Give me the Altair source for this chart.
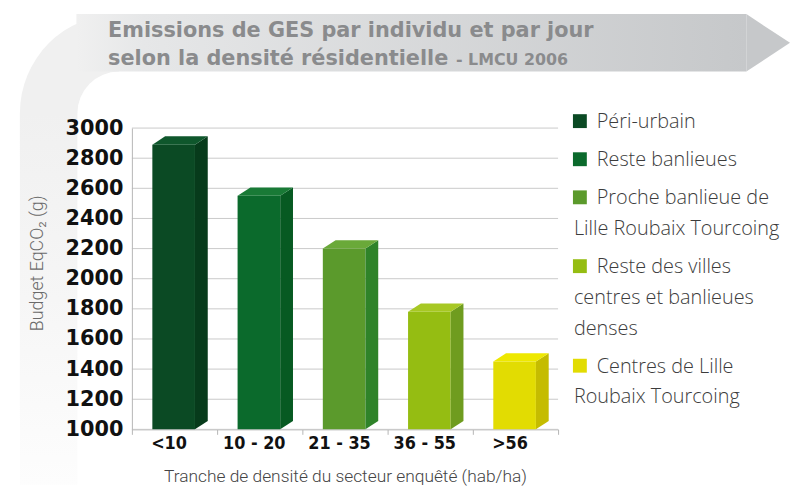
import json
import math
import altair as alt
import pandas as pd

# ---------------- data ----------------
categories = ["<10", "10 - 20", "21 - 35", "36 - 55", ">56"]
values = [2890, 2550, 2200, 1780, 1450]
series = [
    "Péri-urbain",
    "Reste banlieues",
    "Proche banlieue de\nLille Roubaix Tourcoing",
    "Reste des villes\ncentres et banlieues\ndenses",
    "Centres de Lille\nRoubaix Tourcoing",
]
y_ticks = [1000, 1200, 1400, 1600, 1800, 2000, 2200, 2400, 2600, 2800, 3000]
title_lines = ["Emissions de GES par individu et par jour", "selon la densité résidentielle"]
title_suffix = "- LMCU 2006"
x_title = "Tranche de densité du secteur enquêté (hab/ha)"
y_title = "Budget EqCO₂ (g)"

# ---------------- styles ----------------
front_colors = ["#0b4a24", "#0b6a2c", "#5b9a2c", "#95bd12", "#e2dc02"]
side_colors = ["#073b1b", "#075a22", "#2f8329", "#6f9c1f", "#c5bc00"]
top_colors = ["#0f572c", "#197a36", "#6aa939", "#a7c824", "#eee800"]
W, H = 430, 304
DEPTH_X = 0.15      # category units
DEPTH_Y = 56        # value units
BASE = 1000
TITLE_FONT = "DejaVu Sans"
TITLE_COLOR = "#8a8b8d"
LEG_FONT = "Open Sans"
LEG_SIZE = 20

df = pd.DataFrame({"cat": categories, "value": values, "idx": list(range(len(categories)))})
grid_df = pd.DataFrame({"tick": y_ticks})

leg_rows = []
g = 0
for i, s in enumerate(series):
    for j, line in enumerate(s.split("\n")):
        leg_rows.append({"item": series[i].split("\n")[0], "i": i, "line": j, "g": g, "text": line})
        g += 1
leg = pd.DataFrame(leg_rows)
item_keys = [s.split("\n")[0] for s in series]

xs = alt.Scale(domain=[0, len(categories)], nice=False, zero=False)
ys = alt.Scale(domain=[y_ticks[0], y_ticks[-1]], nice=False, zero=False)

label_expr = json.dumps(categories) + "[datum.value] || ''"
xaxis = alt.Axis(
    values=list(range(len(categories) + 1)), labelExpr=label_expr, grid=False,
    domainColor="#b5b5b5", tickColor="#b5b5b5", tickSize=5, labelOffset=37,
    labelFlush=False, labelOverlap=False,
    labelFont="DejaVu Sans Condensed, DejaVu Sans", labelFontWeight="bold", labelFontSize=18,
    labelColor="#111111", labelPadding=0,
    title=x_title, titleFont="Roboto", titleFontWeight=300, titleFontSize=17.5,
    titleColor="#444444", titlePadding=16,
)
yaxis = alt.Axis(
    values=y_ticks, format="d", grid=False, domainColor="#b5b5b5", ticks=False, zindex=1,
    labelFont="DejaVu Sans", labelFontWeight="bold", labelFontSize=21, labelColor="#111111",
    labelPadding=9, labelBaseline="middle",
    title=y_title, titleFont="Roboto", titleFontWeight=300, titleFontSize=18,
    titleColor="#6a6a6a", titleX=-95, titleY=136, titleAlign="center", titleBaseline="middle",
)

def col(rng):
    return alt.Color("cat:N", scale=alt.Scale(domain=categories, range=rng), legend=None)

# horizontal gridlines (behind the bars)
grid = alt.Chart(grid_df).mark_rule(color="#c9c9c9", strokeWidth=1).encode(
    y=alt.Y("tick:Q", scale=ys, axis=None),
    x=alt.value(0), x2=alt.value(W),
)

base = alt.Chart(df)
front = base.transform_calculate(
    px="datum.idx + 0.24", px2="datum.idx + 0.74"
).mark_bar().encode(
    x=alt.X("px:Q", scale=xs, axis=xaxis),
    x2="px2:Q",
    y=alt.Y("value:Q", scale=ys, axis=yaxis),
    y2=alt.datum(BASE),
    color=col(front_colors),
)
side = base.transform_calculate(k="[0, 1]").transform_flatten(["k"]).transform_calculate(
    px=f"datum.idx + 0.74 + datum.k * {DEPTH_X}",
    yt=f"datum.value + datum.k * {DEPTH_Y}",
    yb=f"{BASE} + datum.k * {DEPTH_Y}",
).mark_area(orient="vertical").encode(
    x=alt.X("px:Q", scale=xs, axis=xaxis),
    y=alt.Y("yt:Q", scale=ys, axis=None, stack=None),
    y2="yb:Q",
    color=col(side_colors),
)
top = base.transform_calculate(k="[0, 1, 2, 3]").transform_flatten(["k"]).transform_calculate(
    px=f"datum.idx + 0.24 + [0, {DEPTH_X}, 0.5, 0.5 + {DEPTH_X}][datum.k]",
    yt=f"datum.value + [0, {DEPTH_Y}, {DEPTH_Y}, {DEPTH_Y}][datum.k]",
    yb=f"datum.value + [0, 0, 0, {DEPTH_Y}][datum.k]",
).mark_area(orient="vertical").encode(
    x=alt.X("px:Q", scale=xs, axis=xaxis),
    y=alt.Y("yt:Q", scale=ys, axis=None, stack=None),
    y2="yb:Q",
    color=col(top_colors),
)

ls = alt.Scale(domain=[0, 9.806], reverse=True, nice=False, zero=False)
lbase = alt.Chart(leg).transform_calculate(pos="datum.g + datum.i * 0.24")
leg_sq = lbase.transform_filter("datum.line == 0").mark_square(
    size=196, opacity=1, yOffset=-7
).encode(
    x=alt.value(452),
    y=alt.Y("pos:Q", scale=ls, axis=None),
    color=alt.Color("item:N", scale=alt.Scale(domain=item_keys, range=front_colors), legend=None),
)
leg_first = lbase.transform_filter("datum.line == 0").mark_text(
    align="left", baseline="alphabetic", font=LEG_FONT, fontWeight=300, fontSize=LEG_SIZE, color="#3c3c3c"
).encode(x=alt.value(469), y=alt.Y("pos:Q", scale=ls, axis=None), text="text:N")
leg_more = lbase.transform_filter("datum.line > 0").mark_text(
    align="left", baseline="alphabetic", font=LEG_FONT, fontWeight=300, fontSize=LEG_SIZE, color="#3c3c3c"
).encode(x=alt.value(446), y=alt.Y("pos:Q", scale=ls, axis=None), text="text:N")

# decorative title banner and left swoosh
deco = alt.Data(values=[{"a": 1}])
swoosh_arc = alt.Chart(deco).mark_arc(
    innerRadius=42, outerRadius=100, color="#f0f0f0"
).encode(theta=alt.value(1.5 * math.pi), theta2=alt.value(2 * math.pi),
         x=alt.value(-13), y=alt.value(-15))
swoosh_band = alt.Chart(deco).mark_rect(
    color=alt.Gradient(gradient="linear", x1=0, x2=0, y1=0, y2=1,
                       stops=[alt.GradientStop(color="#f0f0f0", offset=0),
                              alt.GradientStop(color="#f6f6f6", offset=0.5),
                              alt.GradientStop(color="#fdfdfd", offset=1)])
).encode(x=alt.value(-113), x2=alt.value(-55), y=alt.value(-15.5), y2=alt.value(360))
banner = alt.Chart(deco).mark_rect(
    color=alt.Gradient(gradient="linear", x1=0, x2=1, y1=0, y2=0,
                       stops=[alt.GradientStop(color="#f0f0f0", offset=0),
                              alt.GradientStop(color="#e6e7e8", offset=0.1),
                              alt.GradientStop(color="#c6c8ca", offset=1)])
).encode(x=alt.value(-56), x2=alt.value(620), y=alt.value(-115), y2=alt.value(-57))
tip = alt.Chart(deco).mark_point(
    shape="M-0.76,-1L0.76,0L-0.76,1Z", filled=True, size=3364, color="#c6c8ca", opacity=1
).encode(x=alt.value(642), y=alt.value(-86))

def title_text(txt, x, y, size):
    return alt.Chart(alt.Data(values=[{"t": txt}])).mark_text(
        align="left", baseline="alphabetic", font=TITLE_FONT, fontWeight="bold",
        fontSize=size, color=TITLE_COLOR
    ).encode(x=alt.value(x), y=alt.value(y), text="t:N")

t1 = title_text(title_lines[0], -24, -92, 21)
t2 = title_text(title_lines[1], -24, -64, 21)
t3 = title_text(title_suffix, 327, -64, 16)

chart = alt.layer(
    swoosh_arc, swoosh_band, banner, tip, grid,
    front, side, top, leg_sq, leg_first, leg_more, t1, t2, t3
).resolve_scale(y="independent", color="independent").properties(
    width=W, height=H,
    autosize=alt.AutoSizeParams(type="none"),
    padding={"left": 125, "top": 119, "right": 234, "bottom": 55},
).configure_view(stroke=None)

chart.save("out.html", embed_options={"renderer": "svg", "actions": False})
